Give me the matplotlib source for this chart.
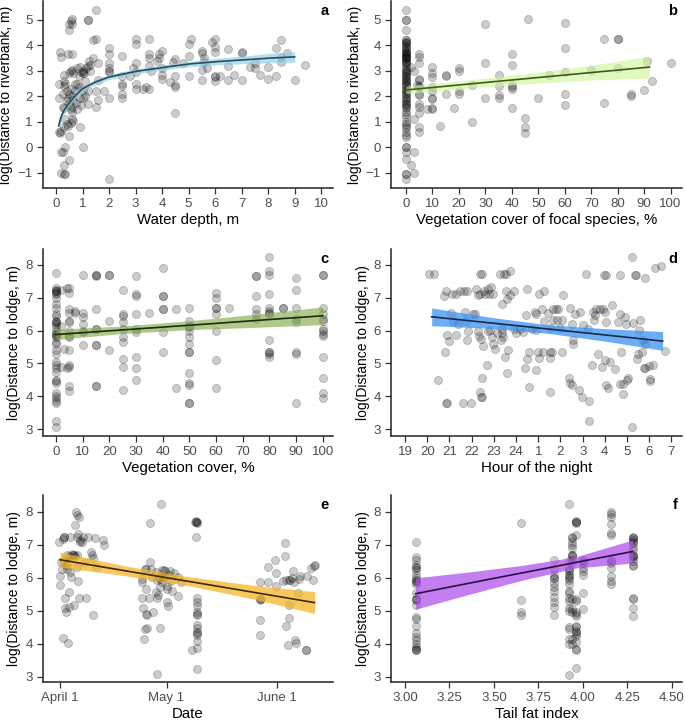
import numpy as np
import matplotlib
matplotlib.use("Agg")
import matplotlib.pyplot as plt

plt.rcParams["font.family"] = ["Liberation Sans", "DejaVu Sans"]

# ---------------- a: water depth vs log(distance to riverbank) ----------------
A_PTS = [
    (0.1, 2.5), (0.1, 1.95), (0.15, 3.75), (0.2, 3.55), (0.1, 0.6), (0.15, 0.55),
    (0.2, 0.65), (0.2, -0.2), (0.25, -0.2), (0.2, -1.0), (0.3, -1.05), (0.35, -1.05),
    (0.3, -0.7), (0.35, 0.0), (0.5, -0.5), (0.5, 0.45), (0.3, 0.8), (0.4, 0.9),
    (0.35, 1.1), (0.45, 0.85), (0.55, 0.95), (0.6, 1.1), (0.65, 1.05), (0.25, 1.6),
    (0.3, 1.55), (0.25, 2.1), (0.3, 2.4), (0.35, 2.5), (0.3, 2.6), (0.3, 2.85),
    (0.4, 2.2), (0.45, 1.95), (0.4, 1.8), (0.5, 2.1), (0.5, 1.7), (0.55, 1.5),
    (0.6, 1.4), (0.6, 1.6), (0.55, 2.3), (0.6, 2.0), (0.65, 1.85), (0.7, 2.2),
    (0.7, 2.5), (0.65, 2.9), (0.5, 2.9), (0.55, 3.0), (0.6, 3.05), (0.45, 3.65),
    (0.6, 3.65), (0.5, 4.85), (0.55, 4.95), (0.6, 5.05), (0.6, 4.85), (0.5, 4.6),
    (1.2, 5.0), (1.2, 5.0), (1.5, 5.4), (1.4, 4.2), (1.5, 4.25), (0.8, 2.5),
    (0.85, 2.35), (0.9, 1.95), (0.85, 2.8), (0.9, 3.15), (0.95, 2.95), (1.0, 2.9),
    (1.0, 3.0), (1.05, 2.9), (1.1, 2.6), (1.0, 2.25), (1.0, 1.95), (1.1, 2.0),
    (1.2, 2.2), (0.75, 1.75), (0.8, 1.5), (0.95, 1.65), (1.2, 1.7), (1.15, 3.1),
    (1.2, 3.2), (1.25, 3.4), (1.3, 3.0), (1.3, 3.25), (1.4, 3.5), (0.9, 0.8),
    (1.0, 0.0), (0.8, 3.1), (1.5, 1.6), (1.6, 1.85), (1.5, 2.2), (1.6, 2.65),
    (1.6, 3.3), (1.8, 2.2), (2.0, 1.95), (2.0, 2.95), (2.0, 3.0), (2.0, 3.1),
    (2.0, 3.3), (2.0, 3.65), (2.0, 3.9), (2.0, -1.25), (2.5, 1.95), (2.5, 2.1),
    (2.5, 2.4), (2.5, 2.5), (2.5, 2.8), (2.5, 3.6), (2.8, 2.8), (2.9, 3.1),
    (3.0, 2.3), (3.0, 2.5), (3.0, 2.95), (3.0, 3.3), (3.0, 4.05), (3.0, 4.25),
    (3.3, 2.3), (3.4, 2.35), (3.5, 2.3), (3.5, 3.2), (3.5, 3.5), (3.5, 3.65),
    (3.5, 4.25), (3.6, 3.0), (3.8, 3.4), (3.9, 3.5), (3.9, 3.65), (4.0, 3.8),
    (4.0, 2.7), (4.0, 2.85), (4.0, 3.1), (4.3, 2.55), (4.5, 2.35), (4.5, 2.45),
    (4.5, 2.8), (4.5, 3.45), (4.4, 3.35), (4.5, 1.35), (4.8, 3.3), (5.0, 2.8),
    (5.0, 3.6), (5.0, 4.05), (5.1, 4.25), (5.5, 2.65), (5.5, 3.05), (5.5, 3.7),
    (5.5, 3.8), (5.6, 3.5), (5.6, 3.35), (5.7, 3.1), (5.9, 4.15), (6.0, 4.25),
    (6.0, 3.95), (6.0, 3.75), (6.0, 2.8), (6.0, 2.6), (6.0, 2.75), (6.2, 2.8),
    (6.5, 3.85), (6.5, 3.2), (6.5, 2.65), (6.7, 2.85), (7.0, 3.75), (7.0, 3.7),
    (7.0, 2.65), (7.3, 3.15), (7.5, 3.3), (7.5, 3.1), (7.7, 2.85), (8.0, 3.15),
    (8.0, 2.7), (8.3, 3.9), (8.3, 2.8), (8.5, 4.2), (8.5, 3.55), (8.5, 3.35),
    (8.7, 3.7), (9.0, 2.65), (9.4, 3.25),
]
A_FIT_X = [0.1, 0.15, 0.2, 0.3, 0.4, 0.5, 0.7, 1, 1.5, 2, 3, 4, 5, 6, 7, 8, 9]
A_FIT_Y = [0.84, 1.05, 1.22, 1.45, 1.6, 1.75, 2.0, 2.3, 2.57, 2.76, 2.98, 3.13,
           3.27, 3.36, 3.43, 3.5, 3.55]
A_HALF = [0.2, 0.18, 0.17, 0.15, 0.14, 0.13, 0.12, 0.11, 0.1, 0.1, 0.1, 0.1,
          0.11, 0.13, 0.15, 0.18, 0.21]

# ---------------- b: vegetation cover of focal species ----------------
B_COLS = {
    0: [5.4, 5.0, 5.0, 4.6, 4.2, 4.2, 4.15, 4.1, 4.1, 4.0, 3.95, 3.85, 3.75, 3.7, 3.7,
        3.65, 3.6, 3.6, 3.55, 3.5, 3.5, 3.4, 3.35, 3.3, 3.2, 3.1, 3.05, 3.0, 2.95,
        2.9, 2.8, 2.75, 2.7, 2.6, 2.5, 2.45, 2.4, 2.3, 2.25, 2.2, 2.1, 2.0, 1.95,
        1.9, 1.8, 1.7, 1.6, 1.55, 1.4, 1.3, 1.2, 1.0, 0.9, 0.85, 0.75, 0.6, 0.5,
        0.4, 0.0, 0.0, -0.2, -0.45, -1.05, -1.05, -1.25, 3.8, 3.3, 2.85, 2.65, 2.15,
        1.75, 1.65, 3.9, 3.45, 2.55],
    2: [3.15, -0.7], 3: [3.0, 1.1, -0.2, -1.0], 4: [2.45],
    5: [3.65, 3.55, 3.3, 2.7, 2.65, 2.4, 2.35, 2.1, 2.05, 1.7, 1.6, 1.35, 0.8, 0.6],
    8: [1.5], 10: [3.15, 2.9, 2.75, 2.35, 2.2, 1.95, 1.9, 1.55, 1.5], 13: [0.85],
    15: [2.8, 2.85, 2.1], 18: [1.55], 20: [3.1, 3.0, 2.2, 2.1], 25: [2.45, 1.0],
    30: [4.85, 3.3, 1.95], 35: [2.85, 2.4, 2.05, 1.95],
    40: [3.65, 3.25, 2.45, 2.35, 2.3, 1.55], 45: [1.15, 0.8, 0.55], 46: [5.05],
    50: [1.95], 54: [2.85], 60: [4.9, 3.9, 2.95, 2.1, 1.65], 70: [3.05],
    75: [4.25, 1.75], 80: [4.25, 4.25, 3.1], 85: [2.1, 2.0], 90: [2.25],
    91: [3.4], 93: [2.6], 100: [3.3],
}
B_FIT_X = [0, 20, 46, 70, 92]
B_FIT_Y = [2.25, 2.45, 2.7, 2.93, 3.15]
B_LO = [2.11, 2.3, 2.5, 2.64, 2.72]
B_HI = [2.4, 2.6, 2.9, 3.22, 3.58]

# ---------------- c: vegetation cover vs log(distance to lodge) ----------------
C_COLS = {
    0: [7.75, 7.3, 7.25, 7.2, 7.2, 7.15, 7.1, 7.0, 6.8, 6.7, 6.5, 6.45, 6.3, 6.25,
        6.25, 6.2, 6.1, 6.0, 5.9, 5.9, 5.85, 5.8, 5.65, 5.6, 5.4, 5.3, 5.05, 4.95,
        4.85, 4.75, 4.5, 4.45, 4.4, 4.1, 4.0, 3.95, 3.85, 3.8, 3.25, 3.05],
    2: [7.25, 6.15, 4.9], 3: [5.45], 4: [7.3, 4.85],
    5: [7.3, 7.15, 6.65, 6.55, 6.3, 6.25, 6.0, 5.85, 5.8, 5.4, 4.95, 4.9, 4.3, 4.15],
    7: [6.6, 6.55], 10: [7.7, 6.55, 6.4, 6.2, 6.0, 5.95, 5.55],
    15: [7.7, 7.7, 7.65, 6.65, 6.05, 6.05, 5.55, 5.55, 4.3, 4.3],
    20: [7.7, 7.7, 6.3, 5.4],
    25: [7.25, 6.5, 6.45, 6.25, 6.05, 5.8, 5.65, 5.15, 4.9, 4.2],
    30: [7.65, 7.1, 7.05, 6.5, 6.05, 5.95, 5.2, 4.85, 4.5], 35: [6.55],
    40: [7.9, 7.05, 7.05, 6.65, 6.65, 5.95, 5.35], 45: [6.65, 4.25],
    50: [6.7, 6.3, 6.15, 6.1, 6.0, 5.8, 5.6, 5.35, 5.35, 4.7, 4.4, 4.35, 3.8, 3.8],
    60: [7.15, 7.0, 6.7, 6.7, 6.5, 6.0, 5.1, 4.25], 65: [6.7],
    75: [7.65, 7.65, 7.05, 6.65, 6.35, 6.5],
    80: [8.25, 7.8, 7.7, 7.1, 6.7, 6.6, 6.55, 6.5, 5.7, 5.35, 5.35, 5.3, 5.2],
    85: [6.7, 6.7], 90: [7.6, 7.25, 6.7, 6.35, 6.25, 5.35, 5.3, 3.8],
    100: [7.7, 7.7, 6.7, 6.5, 6.35, 6.3, 6.05, 6.0, 5.9, 5.85, 5.2, 4.55, 4.1, 3.95],
}
C_FIT_X = [0, 25, 50, 75, 100]
C_FIT_Y = [5.88, 6.02, 6.16, 6.31, 6.45]
C_LO = [5.73, 5.91, 6.03, 6.1, 6.18]
C_HI = [6.04, 6.14, 6.3, 6.5, 6.72]

# ---------------- d: hour of the night (19..31 = 19:00..7:00) ----------------
D_PTS = [
    (20.1, 7.73), (20.3, 7.73), (20.5, 4.49), (20.75, 7.04), (20.85, 7.22), (20.8, 5.34),
    (20.85, 3.81), (20.9, 3.81), (20.9, 5.88), (21.0, 5.67), (21.1, 7.12), (21.07, 6.53),
    (21.17, 6.29), (21.3, 5.88), (21.28, 7.12), (21.4, 6.21), (21.47, 7.22), (21.6, 3.81),
    (21.65, 7.22), (21.8, 7.22), (21.7, 6.56), (21.73, 6.29), (21.8, 5.7), (21.85, 6.0),
    (21.95, 3.81), (22.05, 6.51), (22.15, 6.51), (22.2, 7.27), (22.27, 7.07), (22.3, 6.0),
    (22.37, 7.73), (22.45, 7.73), (22.37, 7.12), (22.35, 5.83), (22.4, 5.75), (22.37, 4.13),
    (22.45, 3.98), (22.4, 3.98), (22.45, 4.56), (22.52, 5.52), (22.55, 7.22), (22.6, 7.12),
    (22.67, 4.96), (22.72, 6.0), (22.75, 7.27), (22.8, 7.12), (22.83, 6.03), (22.85, 7.32),
    (22.95, 7.12), (22.93, 5.8), (22.97, 5.6), (23.05, 5.43), (23.12, 5.94), (23.32, 5.72),
    (23.35, 5.92), (23.38, 6.06), (23.35, 6.82), (23.27, 7.73), (23.45, 7.73), (23.55, 7.73),
    (23.42, 5.8), (23.53, 7.22), (23.58, 6.97), (23.5, 5.2), (23.58, 4.71), (23.65, 5.42),
    (23.72, 7.07), (23.75, 7.83), (23.9, 7.22), (23.92, 6.06), (24.02, 5.92), (24.2, 6.06),
    (24.3, 5.95), (24.4, 4.86), (24.45, 6.49), (24.5, 7.27), (24.5, 5.13), (24.58, 4.29),
    (24.6, 5.35), (24.7, 6.06), (24.85, 6.56), (24.92, 6.51), (24.9, 4.79), (24.88, 6.03),
    (24.97, 5.35), (25.05, 5.18), (25.03, 7.12), (25.22, 5.35), (25.25, 7.22), (25.27, 6.29),
    (25.15, 6.66), (25.45, 6.53), (25.52, 5.35), (25.6, 5.35), (25.52, 5.18), (25.55, 4.13),
    (25.52, 6.09), (25.65, 6.31), (25.67, 6.66), (25.8, 6.66), (25.9, 6.66), (25.86, 6.31),
    (25.97, 6.09), (26.05, 6.31), (26.1, 7.07), (26.05, 5.35), (26.4, 4.56), (26.43, 6.69),
    (26.45, 4.41), (26.5, 4.34), (26.57, 5.58), (26.57, 5.7), (26.5, 6.21), (26.65, 6.51),
    (26.85, 4.18), (26.87, 6.56), (26.98, 3.98), (27.03, 6.16), (27.17, 7.73), (27.25, 6.06),
    (27.3, 3.85), (27.28, 3.24), (27.4, 4.94), (27.47, 6.56), (27.5, 6.31), (27.55, 6.46),
    (27.6, 6.66), (27.7, 5.28), (27.78, 6.66), (27.85, 4.89), (27.92, 6.66), (27.97, 7.7),
    (28.03, 7.7), (28.0, 5.1), (28.0, 6.56), (28.03, 6.26), (28.07, 4.34), (28.15, 4.26),
    (28.22, 5.05), (28.3, 6.77), (28.45, 4.84), (28.57, 6.26), (28.67, 6.51), (28.67, 7.68),
    (28.72, 5.35), (28.7, 4.37), (28.82, 4.37), (28.8, 4.08), (28.9, 6.41), (28.95, 6.19),
    (29.0, 4.51), (29.05, 4.56), (29.2, 8.23), (29.2, 3.05), (29.27, 6.23), (29.35, 7.7),
    (29.42, 7.7), (29.45, 5.13), (29.5, 5.28), (29.55, 6.03), (29.58, 6.31), (29.65, 5.35),
    (29.72, 5.7), (29.75, 4.86), (29.8, 4.86), (29.8, 5.6), (29.8, 7.61), (29.99, 4.91),
    (30.02, 4.54), (30.05, 4.46), (30.17, 4.94), (30.25, 7.91), (30.52, 7.98), (30.7, 5.38),
]
D_FIT_X = [20.2, 22.8, 25.4, 28.0, 30.6]
D_FIT_Y = [6.42, 6.24, 6.05, 5.87, 5.68]
D_LO = [6.15, 6.07, 5.92, 5.68, 5.4]
D_HI = [6.69, 6.41, 6.18, 6.06, 5.97]
D_TICKS = [19, 20, 21, 22, 23, 24, 25, 26, 27, 28, 29, 30, 31]
D_LABELS = ["19", "20", "21", "22", "23", "24", "1", "2", "3", "4", "5", "6", "7"]

# ---------------- e: date (days after April 1) ----------------
E_PTS = [
    (-0.2, 7.1), (0, 6.06), (0, 5.78), (0.3, 6.48), (0.94, 4.19), (0.5, 6.28),
    (0.75, 7.17), (1.0, 7.24), (1.2, 7.24), (1.4, 5.38), (1.4, 5.08), (1.6, 4.97),
    (1.7, 6.38), (1.9, 6.26), (2.1, 6.48), (2.3, 4.01), (2.4, 5.13), (2.4, 5.58),
    (2.4, 6.66), (2.8, 6.18), (2.8, 7.24), (3.0, 6.04), (3.3, 6.74), (3.6, 6.7),
    (3.8, 5.18), (4.0, 6.68), (4.3, 6.66), (4.7, 6.68), (4.2, 7.6), (4.5, 8.0),
    (4.7, 7.9), (4.7, 7.24), (4.9, 6.34), (5.0, 5.9), (5.2, 7.85), (5.0, 7.34),
    (5.5, 7.1), (5.2, 5.38), (5.7, 7.15), (6.3, 7.1), (6.6, 7.24), (7.1, 6.48),
    (7.4, 5.38), (8.0, 7.24), (8.7, 6.8), (9.0, 6.7), (9.2, 6.6), (9.2, 4.87),
    (9.9, 7.2), (10.2, 6.32), (12.1, 7.15), (12.3, 7.0), (1.1, 6.5), (2.0, 6.7),
    (25.3, 7.66), (23.1, 5.38), (23.1, 5.88), (23.1, 5.98), (23.4, 5.08), (23.6, 4.16),
    (23.8, 6.28), (24.2, 6.28), (23.8, 4.45), (24.2, 4.9), (24.5, 4.49), (24.3, 5.65),
    (24.5, 4.87), (25.0, 5.38), (25.2, 6.48), (25.5, 6.26), (25.9, 6.04), (26.2, 4.97),
    (26.9, 5.58), (27.1, 6.18), (27.2, 5.94), (27.4, 3.07), (27.4, 5.38), (27.5, 5.48),
    (27.8, 6.04), (28.1, 5.98), (28.1, 4.49), (28.1, 5.72), (28.5, 8.24), (28.6, 6.24),
    (28.8, 5.88), (29.0, 6.04), (29.2, 6.24), (29.4, 6.04), (29.7, 6.2), (30.2, 5.28),
    (30.4, 5.15), (30.0, 5.65), (30.0, 5.75), (30.7, 6.08), (30.9, 6.2), (31.3, 5.92),
    (31.6, 5.6), (32.1, 6.15), (33.3, 6.02), (33.3, 5.45), (34.2, 5.88),
    (38.0, 7.7), (38.3, 7.7), (38.6, 7.7), (38.3, 7.72), (38.5, 7.68), (38.2, 7.25),
    (38.5, 5.38), (38.5, 5.28), (38.5, 5.15), (38.5, 4.97), (38.5, 4.87), (38.5, 4.9),
    (38.5, 4.57), (38.5, 4.47), (38.5, 4.37), (38.5, 4.27), (38.5, 4.32), (38.5, 4.08),
    (37.3, 3.8), (38.7, 3.87), (38.5, 3.23),
    (56.4, 5.36), (56.4, 5.33), (56.5, 5.35), (56.4, 4.72), (56.4, 4.28), (56.4, 5.88),
    (58.5, 6.32), (58.5, 5.88), (60.6, 6.54), (60.8, 6.15), (60.8, 5.76), (62.7, 5.9),
    (63.4, 7.07), (63.5, 6.66), (63.7, 5.93), (63.7, 4.55), (64.4, 5.93), (64.3, 3.96),
    (64.6, 4.79), (64.6, 5.17), (64.9, 5.93), (65.4, 6.0), (65.7, 6.22), (65.8, 5.88),
    (66.2, 4.13), (66.5, 4.01), (67.0, 5.55), (67.3, 5.98), (67.5, 6.07), (69.3, 3.8),
    (69.4, 3.82), (69.6, 6.07), (70.6, 6.29), (71.2, 5.93), (71.7, 6.38), (71.6, 6.36),
]
E_FIT_X = [0, 18, 36, 54, 71.7]
E_FIT_Y = [6.55, 6.22, 5.9, 5.57, 5.25]
E_LO = [6.33, 6.07, 5.77, 5.37, 4.92]
E_HI = [6.78, 6.37, 6.04, 5.78, 5.58]
E_TICKS = [0, 30, 61]
E_LABELS = ["April 1", "May 1", "June 1"]

# ---------------- f: tail fat index ----------------
F_COLS = {
    3.06: [7.08, 6.64, 6.54, 6.39, 6.32, 6.3, 6.24, 6.09, 5.99, 5.94, 5.89, 5.9,
           5.81, 5.53, 5.35, 5.33, 5.35, 5.18, 4.82, 4.74, 4.55, 4.32, 4.21, 4.11,
           3.98, 3.91, 3.83, 3.81, 3.81],
    3.65: [7.66, 5.33, 4.97, 4.87],
    3.84: [6.54, 6.28, 6.08, 5.99, 6.0, 5.86, 5.73, 5.6, 5.43, 5.28, 5.13, 4.87],
    3.92: [8.23, 6.5, 6.3, 6.2, 6.1, 6.0, 5.95, 5.8, 5.6, 5.55, 5.4, 5.3, 5.1, 5.0,
           4.5, 4.45, 4.15, 4.0, 3.05, 6.25, 6.05],
    3.94: [7.25, 7.2, 7.1, 7.0, 6.9, 6.7, 6.65, 6.7, 6.55, 6.45, 5.35, 5.05, 4.95,
           4.15, 4.0],
    3.96: [7.7, 7.7, 7.72, 7.68, 7.3, 5.35, 5.3, 4.95, 4.9, 4.85, 4.55, 4.5, 4.4,
           4.35, 4.3, 4.25, 4.05, 3.85, 3.8, 3.25],
    4.00: [6.55, 6.5, 6.45, 6.3, 6.2, 6.1, 5.55, 5.05],
    4.16: [8.0, 7.95, 7.85, 7.65, 7.35, 7.3, 6.55, 6.5, 6.45, 6.3, 6.05, 5.9, 5.8],
    4.28: [7.25, 7.2, 7.15, 7.1, 7.05, 6.95, 6.85, 6.7, 6.65, 6.6, 6.5, 6.4, 6.35,
           5.38, 5.35, 5.1, 4.85, 7.2, 6.65],
}
F_FIT_X = [3.06, 3.36, 3.66, 3.96, 4.28]
F_FIT_Y = [5.52, 5.84, 6.15, 6.47, 6.8]
F_LO = [5.05, 5.5, 5.93, 6.3, 6.45]
F_HI = [6.0, 6.18, 6.38, 6.64, 7.15]

XLAB_SIZE = 10.8
YLAB_SIZE = 10.0


def cols_to_xy(cols):
    xs = [x for x, ys in cols.items() for _ in ys]
    ys = [y for _, ys in cols.items() for y in ys]
    return xs, ys


def style(ax, letter, xlabel, ylabel):
    for s in ("top", "right"):
        ax.spines[s].set_visible(False)
    for s in ("left", "bottom"):
        ax.spines[s].set_linewidth(1.1)
        ax.spines[s].set_color("#222222")
    ax.tick_params(direction="out", length=4.5, width=0.9, color="#333333",
                   labelsize=9.5, labelcolor="#4d4d4d", pad=3)
    ax.set_xlabel(xlabel, fontsize=XLAB_SIZE, labelpad=2)
    ax.set_ylabel(ylabel, fontsize=YLAB_SIZE, labelpad=3)
    ax.text(0.985, 0.985, letter, transform=ax.transAxes, ha="right", va="top",
            fontsize=10.5, fontweight="bold")


def points(ax, xs, ys):
    ax.scatter(xs, ys, s=34, facecolor=(0, 0, 0, 0.2), edgecolor=(0, 0, 0, 0.22),
               linewidths=0.6, zorder=2)


def fit(ax, fx, fy, lo, hi, band, line, n=200):
    gx = np.linspace(fx[0], fx[-1], n)
    ax.fill_between(gx, np.interp(gx, fx, lo), np.interp(gx, fx, hi),
                    color=band, lw=0, zorder=3)
    ax.plot(gx, np.interp(gx, fx, fy), color=line, lw=1.2, zorder=4)


fig = plt.figure(figsize=(6.85, 7.24), dpi=100)
L1, L2, W1, W2, H = 0.0628, 0.5715, 0.4234, 0.424, 0.2585
B_TOP, B_MID, B_BOT = 0.7403, 0.3978, 0.058

# a
ax = fig.add_axes([L1, B_TOP, W1, H])
ax_, ay_ = zip(*A_PTS)
points(ax, ax_, ay_)
fit(ax, A_FIT_X, A_FIT_Y, np.subtract(A_FIT_Y, A_HALF), np.add(A_FIT_Y, A_HALF),
    (0.53, 0.81, 0.92, 0.65), "#2c4a58")
ax.set_xlim(-0.49, 10.45)
ax.set_ylim(-1.6, 5.75)
ax.set_xticks(range(0, 11))
ax.set_yticks(range(-1, 6))
style(ax, "a", "Water depth, m", "log(Distance to riverbank, m)")

# b
ax = fig.add_axes([L2, B_TOP, W2, H])
points(ax, *cols_to_xy(B_COLS))
fit(ax, B_FIT_X, B_FIT_Y, B_LO, B_HI, (0.80, 0.96, 0.58, 0.6), "#3f5a20")
ax.set_xlim(-5.5, 104.3)
ax.set_ylim(-1.6, 5.75)
ax.set_xticks(range(0, 101, 10))
ax.set_yticks(range(-1, 6))
style(ax, "b", "Vegetation cover of focal species, %", "log(Distance to riverbank, m)")

# c
ax = fig.add_axes([L1, B_MID, W1, H])
points(ax, *cols_to_xy(C_COLS))
fit(ax, C_FIT_X, C_FIT_Y, C_LO, C_HI, (0.52, 0.68, 0.30, 0.65), "#1d2a10")
ax.set_xlim(-4.87, 103.9)
ax.set_ylim(2.79, 8.49)
ax.set_xticks(range(0, 101, 10))
ax.set_yticks(range(3, 9))
style(ax, "c", "Vegetation cover, %", "log(Distance to lodge, m)")

# d
ax = fig.add_axes([L2, B_MID, W2, H])
dx, dy = zip(*D_PTS)
points(ax, dx, dy)
fit(ax, D_FIT_X, D_FIT_Y, D_LO, D_HI, (0.20, 0.56, 0.95, 0.72), "#1b2a48")
ax.set_xlim(18.39, 31.47)
ax.set_ylim(2.79, 8.49)
ax.set_xticks(D_TICKS)
ax.set_xticklabels(D_LABELS)
ax.set_yticks(range(3, 9))
style(ax, "d", "Hour of the night", "log(Distance to lodge, m)")

# e
ax = fig.add_axes([L1, B_BOT, W1, H])
ex, ey = zip(*E_PTS)
points(ax, ex, ey)
fit(ax, E_FIT_X, E_FIT_Y, E_LO, E_HI, (0.97, 0.70, 0.12, 0.72), "#3a2a10")
ax.set_xlim(-4.8, 76.9)
ax.set_ylim(2.84, 8.52)
ax.set_xticks(E_TICKS)
ax.set_xticklabels(E_LABELS)
ax.set_yticks(range(3, 9))
style(ax, "e", "Date", "log(Distance to lodge, m)")

# f
ax = fig.add_axes([L2, B_BOT, W2, H])
points(ax, *cols_to_xy(F_COLS))
fit(ax, F_FIT_X, F_FIT_Y, F_LO, F_HI, (0.68, 0.30, 0.92, 0.72), "#2d0f40")
ax.set_xlim(2.924, 4.558)
ax.set_ylim(2.84, 8.52)
ax.set_xticks([3.0, 3.25, 3.5, 3.75, 4.0, 4.25, 4.5])
ax.set_xticklabels(["3.00", "3.25", "3.50", "3.75", "4.00", "4.25", "4.50"])
ax.set_yticks(range(3, 9))
style(ax, "f", "Tail fat index", "log(Distance to lodge, m)")

fig.savefig("out.png", dpi=100)
